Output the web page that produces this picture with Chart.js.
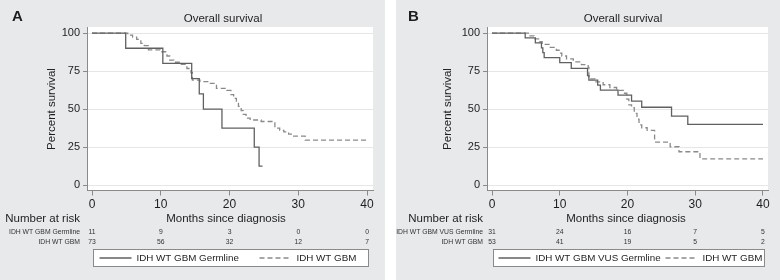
<!DOCTYPE html>
<html>
<head>
<meta charset="utf-8">
<script src="https://cdn.jsdelivr.net/npm/chart.js@4.4.0/dist/chart.umd.min.js"></script>
<style>
  html, body { margin: 0; padding: 0; background: #fff; }
  #wrap { position: relative; width: 780px; height: 280px; background: #fff; overflow: hidden; }
  .panel { position: absolute; top: 0; height: 280px; background: #e8e9eb; }
  #pA { left: 0; width: 385px; }
  #pB { left: 396px; width: 384px; }
  canvas { display: block; }
</style>
</head>
<body>
<div id="wrap">
  <div class="panel" id="pA"><canvas id="cA" width="385" height="280"></canvas></div>
  <div class="panel" id="pB"><canvas id="cB" width="384" height="280"></canvas></div>
</div>
<script>
// shared axis ticks
const tickMonths = [0, 10, 20, 30, 40];
const yTicks = [0, 25, 50, 75, 100];

// Panel A - Kaplan-Meier steps (month where the step starts, survival %)
const aGermMonths = [0, 4.9, 10.3, 14.5, 15.6, 16.2, 18.9, 23.6, 24.3, 24.8];
const aGermSurv   = [100, 90, 80, 70, 60, 50, 37.5, 25, 12.5, 12.5];
const aWtMonths = [0, 5.2, 5.9, 6.5, 7.1, 7.6, 8.2, 9.9, 10.9, 11.3, 11.9, 12.9, 13.8, 14.4, 14.6,
                   15.7, 17.0, 18.1, 19.6, 20.2, 20.6, 21.0, 21.3, 21.7, 22.0, 22.4, 23.0, 24.6,
                   26.6, 27.3, 27.9, 28.6, 29.2, 31.0, 40.2];
const aWtSurv   = [100, 98.6, 97.3, 95.9, 93.2, 91.8, 89.0, 87.7, 84.9, 82.2, 80.8, 79.4, 76.7, 73.9, 69.0,
                   68.0, 66.9, 63.6, 62.3, 59.5, 57.0, 54.5, 51.7, 49.0, 46.5, 44.0, 42.8, 41.8,
                   37.5, 36.0, 35.0, 33.5, 32.2, 29.6, 29.6];
const aRiskGerm = [11, 9, 3, 0, 0];
const aRiskWt   = [73, 56, 32, 12, 7];

// Panel B
const bGermMonths = [0, 4.9, 6.4, 7.3, 7.5, 7.7, 10.0, 11.7, 14.1, 14.3, 15.6, 16.0, 18.6, 20.6, 22.1,
                     26.5, 28.9, 40.0];
const bGermSurv   = [100, 96.8, 93.5, 90.3, 87.1, 83.9, 80.6, 76.8, 72.0, 69.0, 65.8, 62.5, 59.2, 55.2, 51.2,
                     45.3, 39.9, 39.9];
const bWtMonths = [0, 5.6, 6.2, 7.0, 7.4, 8.6, 9.5, 9.9, 10.3, 11.0, 12.0, 13.2, 14.2, 14.3, 15.2, 16.4,
                   17.4, 18.4, 19.4, 19.9, 20.2, 20.6, 21.0, 21.4, 21.7, 22.1, 22.9, 24.0, 26.3, 27.6,
                   30.7, 40.0];
const bWtSurv   = [100, 98.1, 96.2, 94.3, 92.5, 90.6, 88.7, 86.8, 84.9, 83.0, 81.1, 79.2, 77.4, 69.8, 67.9, 66.0,
                   64.2, 62.3, 60.4, 56.6, 52.8, 50.9, 47.2, 43.4, 39.6, 37.7, 36.0, 28.3, 25.2, 21.9,
                   17.2, 17.2];
const bRiskGerm = [31, 24, 16, 7, 5];
const bRiskWt   = [53, 41, 19, 5, 2];

const FONT = '"Liberation Sans", Arial, Helvetica, sans-serif';
const TEXT = '#1e1e1e';

function toXY(xs, ys) {
  return xs.map((x, i) => ({ x: x, y: ys[i] }));
}

const panelDecor = {
  id: 'panelDecor',
  beforeDraw(chart) {
    const { ctx, chartArea: a } = chart;
    ctx.save();
    ctx.fillStyle = '#ffffff';
    ctx.fillRect(a.left, a.top, a.right - a.left, a.bottom - a.top);
    ctx.restore();
  },
  afterDraw(chart, args, o) {
    const ctx = chart.ctx;
    const xs = chart.scales.x;
    ctx.save();
    ctx.fillStyle = TEXT;
    ctx.textBaseline = 'middle';

    ctx.font = 'bold 15px ' + FONT;
    ctx.textAlign = 'left';
    ctx.fillText(o.letter, o.letterX, 17);

    ctx.font = '11.5px ' + FONT;
    ctx.textAlign = 'center';
    ctx.fillText('Overall survival', o.titleX, 19);
    ctx.fillText('Months since diagnosis', o.xTitleX, 219);
    ctx.textAlign = 'right';
    ctx.fillText('Number at risk', o.riskRight, 219);

    ctx.save();
    ctx.translate(52, 109);
    ctx.rotate(-Math.PI / 2);
    ctx.textAlign = 'center';
    ctx.fillText('Percent survival', 0, 0);
    ctx.restore();

    // number at risk table
    ctx.font = '6.8px ' + FONT;
    ctx.fillStyle = '#333';
    o.riskRows.forEach((row, r) => {
      const y = 232.5 + r * 9.4;
      ctx.textAlign = 'right';
      ctx.fillText(row.label, o.riskRight, y);
      ctx.textAlign = 'center';
      row.values.forEach((v, i) => ctx.fillText(String(v), xs.getPixelForValue(tickMonths[i]), y));
    });

    // legend box
    const bx0 = Math.round(xs.getPixelForValue(0)) + 1.5;
    const bx1 = Math.round(xs.getPixelForValue(40)) + 1.5;
    ctx.fillStyle = '#fff';
    ctx.fillRect(bx0, 249.5, bx1 - bx0, 17);
    ctx.strokeStyle = '#8a8a8a';
    ctx.lineWidth = 1;
    ctx.strokeRect(bx0, 249.5, bx1 - bx0, 17);
    ctx.font = '9.8px ' + FONT;
    ctx.textAlign = 'left';
    chart.data.datasets.forEach((ds, i) => {
      const sx = bx0 + o.legendOffsets[i];
      ctx.strokeStyle = ds.borderColor;
      ctx.lineWidth = ds.borderWidth;
      ctx.setLineDash(ds.borderDash || []);
      ctx.beginPath();
      ctx.moveTo(sx, 258);
      ctx.lineTo(sx + 32, 258);
      ctx.stroke();
      ctx.setLineDash([]);
      ctx.fillStyle = TEXT;
      ctx.fillText(ds.label, sx + 37, 258.5);
    });
    ctx.restore();
  }
};

function makePanel(canvasId, p) {
  const ctx = document.getElementById(canvasId).getContext('2d');
  return new Chart(ctx, {
    type: 'line',
    data: {
      datasets: [
        {
          label: p.names[0],
          data: toXY(p.germMonths, p.germSurv),
          stepped: 'before',
          borderColor: '#606060',
          borderWidth: 1.3,
          pointRadius: 0,
          fill: false
        },
        {
          label: p.names[1],
          data: toXY(p.wtMonths, p.wtSurv),
          stepped: 'before',
          borderColor: '#8a8a8a',
          borderWidth: 1.3,
          borderDash: [5, 3],
          pointRadius: 0,
          fill: false
        }
      ]
    },
    options: {
      responsive: false,
      animation: false,
      layout: { padding: { left: 0, top: 27, right: p.padRight, bottom: 69.5 } },
      plugins: {
        legend: { display: false },
        title: { display: false },
        tooltip: { enabled: false },
        panelDecor: p.decor
      },
      scales: {
        x: {
          type: 'linear',
          min: p.xMin,
          max: p.xMax,
          afterBuildTicks: s => { s.ticks = tickMonths.map(v => ({ value: v })); },
          afterFit: s => { s.height = 20; },
          grid: { drawOnChartArea: false, tickLength: 5, tickColor: '#8a8a8a' },
          border: { color: '#8a8a8a', width: 1 },
          ticks: { color: TEXT, font: { family: FONT, size: 12 }, padding: 2, maxRotation: 0 }
        },
        y: {
          min: -3.6,
          max: 104,
          afterBuildTicks: s => { s.ticks = yTicks.map(v => ({ value: v })); },
          afterFit: s => { s.width = p.yAxisWidth; },
          grid: { color: '#e6e6e6', tickLength: 4, tickColor: '#8a8a8a' },
          border: { color: '#8a8a8a', width: 1 },
          ticks: { color: TEXT, font: { family: FONT, size: 11 }, padding: 3 }
        }
      }
    },
    plugins: [panelDecor]
  });
}

makePanel('cA', {
  names: ['IDH WT GBM Germline', 'IDH WT GBM'],
  germMonths: aGermMonths, germSurv: aGermSurv,
  wtMonths: aWtMonths, wtSurv: aWtSurv,
  xMin: -0.73, xMax: 40.87, padRight: 12, yAxisWidth: 87,
  decor: {
    letter: 'A', letterX: 12, titleX: 223, xTitleX: 226, riskRight: 80,
    riskRows: [
      { label: 'IDH WT GBM Germline', values: aRiskGerm },
      { label: 'IDH WT GBM', values: aRiskWt }
    ],
    legendOffsets: [6, 166]
  }
});

makePanel('cB', {
  names: ['IDH WT GBM VUS Germline', 'IDH WT GBM'],
  germMonths: bGermMonths, germSurv: bGermSurv,
  wtMonths: bWtMonths, wtSurv: bWtSurv,
  xMin: -0.74, xMax: 40.74, padRight: 12, yAxisWidth: 91,
  decor: {
    letter: 'B', letterX: 12, titleX: 227, xTitleX: 230, riskRight: 87,
    riskRows: [
      { label: 'IDH WT GBM VUS Germline', values: bRiskGerm },
      { label: 'IDH WT GBM', values: bRiskWt }
    ],
    legendOffsets: [5, 172]
  }
});
</script>
</body>
</html>
